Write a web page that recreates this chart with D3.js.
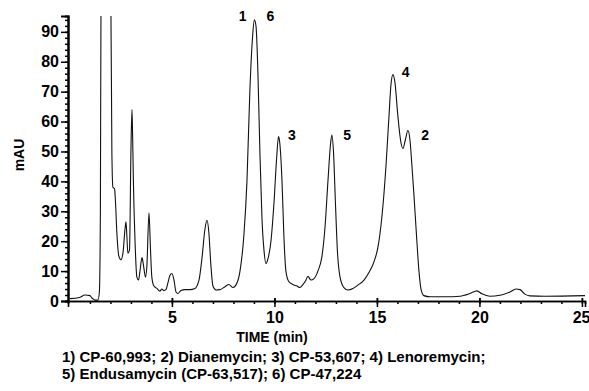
<!DOCTYPE html>
<html><head><meta charset="utf-8">
<script src="https://cdn.jsdelivr.net/npm/d3@7"></script>
<style>
body{margin:0;background:#fff;}
svg text{font-family:"Liberation Sans",Arial,sans-serif;font-weight:bold;fill:#000;}
</style></head><body>
<svg id="c" width="589" height="391"></svg>
<script>
// Chromatogram trace: time (min) and absorbance (mAU)
const time = [0.02,0.5,0.76,1.0,1.1,1.24,1.39,1.46,1.51,1.54,1.75,2.0,2.02,2.07,2.12,2.2,2.24,2.32,2.41,2.51,2.61,2.71,2.76,2.8,2.85,2.93,3.0,3.05,3.08,3.12,3.2,3.29,3.37,3.44,3.54,3.61,3.71,3.78,3.88,3.95,4.02,4.12,4.27,4.41,4.51,4.61,4.71,4.8,4.9,5.0,5.1,5.2,5.29,5.44,5.63,5.88,6.12,6.32,6.46,6.61,6.71,6.8,6.9,7.0,7.15,7.34,7.59,7.78,7.98,8.12,8.32,8.51,8.66,8.8,8.93,9.02,9.1,9.2,9.29,9.39,9.49,9.59,9.68,9.83,9.98,10.1,10.2,10.24,10.37,10.46,10.56,10.7,10.9,11.1,11.24,11.39,11.54,11.63,11.78,11.93,12.12,12.32,12.46,12.61,12.73,12.8,12.88,12.98,13.07,13.2,13.39,13.59,13.83,14.07,14.37,14.61,14.85,15.05,15.24,15.44,15.59,15.68,15.78,15.88,16.02,16.17,16.27,16.39,16.51,16.61,16.71,16.8,16.93,17.05,17.15,17.29,17.59,18.32,19.05,19.54,19.88,20.12,20.51,21.0,21.49,21.78,21.98,22.22,22.46,23.2,25.15];
const mAU  = [0.8,1.2,2.0,1.8,1.0,0.3,0.3,3,30,100,130,100,100,50,38,37.5,34,22,15,13.8,16,24,26.5,22,16,17,50,64,56,40,20,8,7,10,14.5,12,8,12,29.5,18,8,5,4.2,3.3,4,3.5,3.8,6,8.5,9.2,7,3,2.5,3.5,3.8,3.8,4.2,7,14,24,27,23,12,5,3.7,3.8,4.8,5.5,4.5,5.3,10,22,40,70,88,94,92,75,50,28,17,12.5,14,20,33,47,55,54,40,22,10,6.5,5.5,5,4.5,5.5,7,8.3,7,7.5,10,15,24,40,52,55.5,50,32,17,8,4.5,3.7,4.2,5.3,7,9.5,13,18,28,45,62,72,75.7,73,62,53,51,54,57,54,45,36,22,10,4,1.8,1.4,1.4,1.6,2.5,3.4,2.4,1.6,1.9,3.0,4.0,3.8,2.3,1.7,1.6,1.8];
// Peak labels
const peakLabels = ["1","6","3","5","4","2"];
const peakTime   = [8.45,9.8,10.85,13.55,16.4,17.35];
const peakLevel  = [93.5,93.5,54,54,75,54];
const xTicks = [5,10,15,20,25];
const yTicks = [0,10,20,30,40,50,60,70,80,90];
const legendLines = ["1) CP-60,993; 2) Dianemycin; 3) CP-53,607; 4) Lenoremycin;",
                     "5) Endusamycin (CP-63,517); 6) CP-47,224"];

const svg = d3.select("#c");
const x = d3.scaleLinear().domain([-0.07,25.15]).range([68,585]);
const y = d3.scaleLinear().domain([0,95.3]).range([301,16]);

svg.append("clipPath").attr("id","clip").append("rect")
  .attr("x",68).attr("y",16).attr("width",520).attr("height",290);

const pts = time.map((t,i)=>[t,mAU[i]]);
svg.append("path").datum(pts)
  .attr("clip-path","url(#clip)")
  .attr("fill","none").attr("stroke","#111").attr("stroke-width",1.1)
  .attr("d", d3.line().x(d=>x(d[0])).y(d=>y(d[1])).curve(d3.curveMonotoneX));

// Y axis
const yAxis = svg.append("g").attr("transform","translate(68,0)");
yAxis.call(d3.axisLeft(y).tickValues(d3.range(0,95,2)).tickSize(3).tickFormat(""));
yAxis.call(g=>g.append("g").call(d3.axisLeft(y).tickValues(yTicks).tickSize(7).tickPadding(2)));
yAxis.selectAll("path.domain").attr("stroke","#000").attr("stroke-width",2);
yAxis.selectAll("line").attr("stroke","#000").attr("stroke-width",1.5);
yAxis.selectAll("text").attr("font-size","16px").attr("font-weight","bold")
  .attr("font-family","Liberation Sans, Arial, sans-serif").attr("fill","#000");

// X axis
const xAxis = svg.append("g").attr("transform","translate(0,301)");
xAxis.call(d3.axisBottom(x).tickValues(d3.range(1,26,1)).tickSize(3).tickFormat(""));
xAxis.call(g=>g.append("g").call(d3.axisBottom(x).tickValues(xTicks).tickSize(6).tickPadding(5)));
xAxis.selectAll("path.domain").attr("stroke","#000").attr("stroke-width",1.6);
xAxis.selectAll("line").attr("stroke","#000").attr("stroke-width",1.5);
xAxis.selectAll("text").attr("font-size","16px").attr("font-weight","bold")
  .attr("font-family","Liberation Sans, Arial, sans-serif").attr("fill","#000");
xAxis.selectAll("g.tick line").filter(d=>xTicks.includes(d)).attr("y1",-3);
xAxis.selectAll("g.tick text").filter(d=>d===25).attr("text-anchor","end").attr("dx","8");

// Axis titles
svg.append("text").attr("transform","translate(24,155) rotate(-90)")
  .attr("text-anchor","middle").attr("font-size","14px").text("mAU");
svg.append("text").attr("x",272).attr("y",342)
  .attr("text-anchor","middle").attr("font-size","14px").text("TIME (min)");

// Peak labels
svg.selectAll("text.pk").data(peakLabels).enter().append("text").attr("class","pk")
  .attr("x",(d,i)=>x(peakTime[i])).attr("y",(d,i)=>y(peakLevel[i]))
  .attr("text-anchor","middle").attr("font-size","14px").text(d=>d);

// Legend
svg.selectAll("text.lg").data(legendLines).enter().append("text").attr("class","lg")
  .attr("x",62).attr("y",(d,i)=>362+i*17).attr("font-size","15px").text(d=>d);
</script></body></html>
